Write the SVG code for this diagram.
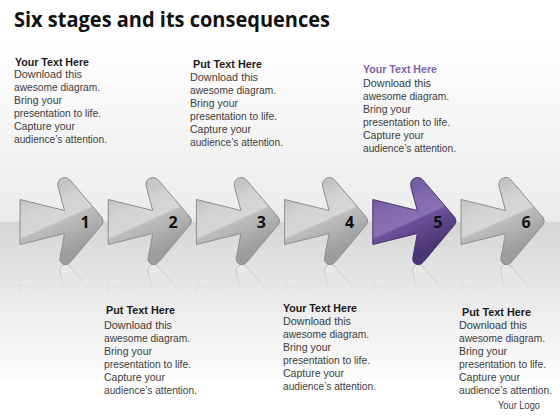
<svg xmlns="http://www.w3.org/2000/svg" xmlns:xlink="http://www.w3.org/1999/xlink" width="560" height="420" viewBox="0 0 560 420">
<style>
.ttl{font-family:"Open Sans","Liberation Sans",sans-serif;font-weight:bold;font-size:22px;fill:#111}
.hd{font-family:"Liberation Sans",Arial,sans-serif;font-weight:bold;font-size:11.5px;fill:#1a1a1a}
.hdp{fill:#7d62a8}
.bd{font-family:"Liberation Sans",Arial,sans-serif;font-size:10.5px;fill:#3c3c3c}
.num{font-family:"Open Sans","Liberation Sans",sans-serif;font-weight:bold;font-size:16px;fill:#111;text-anchor:middle}
.gray{fill:url(#gGray);stroke:#8e8e8e;stroke-width:1}
.purple{fill:url(#gPurple);stroke:#4a356e;stroke-width:1}
.refl{fill:#e9e9e9;stroke:#b8b8b8;stroke-width:1}
</style>
<defs>
<linearGradient id="bgTop" x1="0" y1="40" x2="0" y2="222" gradientUnits="userSpaceOnUse">
<stop offset="0" stop-color="#ffffff"/><stop offset="1" stop-color="#ebebeb"/>
</linearGradient>
<linearGradient id="bgBot" x1="0" y1="222" x2="0" y2="380" gradientUnits="userSpaceOnUse">
<stop offset="0" stop-color="#d5d5d5"/><stop offset="0.45" stop-color="#e9e9e9"/><stop offset="1" stop-color="#fdfdfd"/>
</linearGradient>
<linearGradient id="gGray" x1="0.3" y1="0.15" x2="0.6" y2="0.85">
<stop offset="0" stop-color="#c4c4c4"/><stop offset="0.25" stop-color="#d3d3d3"/><stop offset="0.5" stop-color="#d6d6d6"/><stop offset="0.53" stop-color="#bdbdbd"/><stop offset="1" stop-color="#9d9d9d"/>
</linearGradient>
<linearGradient id="gPurple" x1="0.3" y1="0.15" x2="0.6" y2="0.85">
<stop offset="0" stop-color="#735da3"/><stop offset="0.25" stop-color="#846bb0"/><stop offset="0.5" stop-color="#8870b4"/><stop offset="0.53" stop-color="#6b519a"/><stop offset="1" stop-color="#4b3472"/>
</linearGradient>
<linearGradient id="fadeG" x1="0" y1="264" x2="0" y2="296" gradientUnits="userSpaceOnUse">
<stop offset="0" stop-color="#fff" stop-opacity="0.8"/><stop offset="1" stop-color="#fff" stop-opacity="0"/>
</linearGradient>
<mask id="fade" maskUnits="userSpaceOnUse" x="-10" y="260" width="120" height="40">
<rect x="-10" y="260" width="120" height="40" fill="url(#fadeG)"/>
</mask>
<path id="arrowShape" d="M0,199.5 L44.5,210.5 L38,186.5 Q37,179 44,177.5 Q47.5,177 50,180 L82,217.5 Q84.5,221 82,224.5 L51,261.5 Q48,265.5 44,264.5 Q39.5,263 40,258 L44.5,233.5 L0,244.5 Z"/>
</defs>
<rect width="560" height="420" fill="#ffffff"/>
<rect x="0" y="40" width="560" height="182" fill="url(#bgTop)"/>
<rect x="0" y="222" width="560" height="160" fill="url(#bgBot)"/>
<text class="ttl" x="14" y="27" textLength="316" lengthAdjust="spacingAndGlyphs">Six stages and its consequences</text>
<g id="connectors"/>
<g id="stage1" transform="translate(20,0)">
<g mask="url(#fade)"><use xlink:href="#arrowShape" class="refl" transform="translate(0,529) scale(1,-1)"/></g>
<use xlink:href="#arrowShape" class="gray"/>
<text class="num" x="65" y="228">1</text>
</g>
<g id="stage2" transform="translate(108.2,0)">
<g mask="url(#fade)"><use xlink:href="#arrowShape" class="refl" transform="translate(0,529) scale(1,-1)"/></g>
<use xlink:href="#arrowShape" class="gray"/>
<text class="num" x="65" y="228">2</text>
</g>
<g id="stage3" transform="translate(196.4,0)">
<g mask="url(#fade)"><use xlink:href="#arrowShape" class="refl" transform="translate(0,529) scale(1,-1)"/></g>
<use xlink:href="#arrowShape" class="gray"/>
<text class="num" x="65" y="228">3</text>
</g>
<g id="stage4" transform="translate(284.6,0)">
<g mask="url(#fade)"><use xlink:href="#arrowShape" class="refl" transform="translate(0,529) scale(1,-1)"/></g>
<use xlink:href="#arrowShape" class="gray"/>
<text class="num" x="65" y="228">4</text>
</g>
<g id="stage5" transform="translate(372.8,0)">
<g mask="url(#fade)"><use xlink:href="#arrowShape" class="refl" transform="translate(0,529) scale(1,-1)"/></g>
<use xlink:href="#arrowShape" class="purple"/>
<text class="num" x="65" y="228">5</text>
</g>
<g id="stage6" transform="translate(461,0)">
<g mask="url(#fade)"><use xlink:href="#arrowShape" class="refl" transform="translate(0,529) scale(1,-1)"/></g>
<use xlink:href="#arrowShape" class="gray"/>
<text class="num" x="65" y="228">6</text>
</g>
<g id="text1">
<text class="hd" x="15" y="66" textLength="74" lengthAdjust="spacingAndGlyphs">Your Text Here</text>
<text class="bd" x="14" y="78" textLength="68" lengthAdjust="spacingAndGlyphs">Download this</text>
<text class="bd" x="14" y="91" textLength="86" lengthAdjust="spacingAndGlyphs">awesome diagram.</text>
<text class="bd" x="14" y="104" textLength="48" lengthAdjust="spacingAndGlyphs">Bring your</text>
<text class="bd" x="14" y="117" textLength="87" lengthAdjust="spacingAndGlyphs">presentation to life.</text>
<text class="bd" x="14" y="130" textLength="61" lengthAdjust="spacingAndGlyphs">Capture your</text>
<text class="bd" x="14" y="143" textLength="93" lengthAdjust="spacingAndGlyphs">audience’s attention.</text>
</g>
<g id="text2">
<text class="hd" x="193" y="68" textLength="69" lengthAdjust="spacingAndGlyphs">Put Text Here</text>
<text class="bd" x="190" y="81" textLength="68" lengthAdjust="spacingAndGlyphs">Download this</text>
<text class="bd" x="190" y="94" textLength="86" lengthAdjust="spacingAndGlyphs">awesome diagram.</text>
<text class="bd" x="190" y="107" textLength="48" lengthAdjust="spacingAndGlyphs">Bring your</text>
<text class="bd" x="190" y="120" textLength="87" lengthAdjust="spacingAndGlyphs">presentation to life.</text>
<text class="bd" x="190" y="133" textLength="61" lengthAdjust="spacingAndGlyphs">Capture your</text>
<text class="bd" x="190" y="146" textLength="93" lengthAdjust="spacingAndGlyphs">audience’s attention.</text>
</g>
<g id="text3">
<text class="hd hdp" x="363" y="73" textLength="74" lengthAdjust="spacingAndGlyphs">Your Text Here</text>
<text class="bd" x="363" y="87" textLength="68" lengthAdjust="spacingAndGlyphs">Download this</text>
<text class="bd" x="363" y="100" textLength="86" lengthAdjust="spacingAndGlyphs">awesome diagram.</text>
<text class="bd" x="363" y="113" textLength="48" lengthAdjust="spacingAndGlyphs">Bring your</text>
<text class="bd" x="363" y="126" textLength="87" lengthAdjust="spacingAndGlyphs">presentation to life.</text>
<text class="bd" x="363" y="139" textLength="61" lengthAdjust="spacingAndGlyphs">Capture your</text>
<text class="bd" x="363" y="152" textLength="93" lengthAdjust="spacingAndGlyphs">audience’s attention.</text>
</g>
<g id="text4">
<text class="hd" x="106" y="314" textLength="69" lengthAdjust="spacingAndGlyphs">Put Text Here</text>
<text class="bd" x="104" y="329" textLength="68" lengthAdjust="spacingAndGlyphs">Download this</text>
<text class="bd" x="104" y="342" textLength="86" lengthAdjust="spacingAndGlyphs">awesome diagram.</text>
<text class="bd" x="104" y="355" textLength="48" lengthAdjust="spacingAndGlyphs">Bring your</text>
<text class="bd" x="104" y="368" textLength="87" lengthAdjust="spacingAndGlyphs">presentation to life.</text>
<text class="bd" x="104" y="381" textLength="61" lengthAdjust="spacingAndGlyphs">Capture your</text>
<text class="bd" x="104" y="394" textLength="93" lengthAdjust="spacingAndGlyphs">audience’s attention.</text>
</g>
<g id="text5">
<text class="hd" x="283" y="312" textLength="74" lengthAdjust="spacingAndGlyphs">Your Text Here</text>
<text class="bd" x="283" y="325" textLength="68" lengthAdjust="spacingAndGlyphs">Download this</text>
<text class="bd" x="283" y="338" textLength="86" lengthAdjust="spacingAndGlyphs">awesome diagram.</text>
<text class="bd" x="283" y="351" textLength="48" lengthAdjust="spacingAndGlyphs">Bring your</text>
<text class="bd" x="283" y="364" textLength="87" lengthAdjust="spacingAndGlyphs">presentation to life.</text>
<text class="bd" x="283" y="377" textLength="61" lengthAdjust="spacingAndGlyphs">Capture your</text>
<text class="bd" x="283" y="390" textLength="93" lengthAdjust="spacingAndGlyphs">audience’s attention.</text>
</g>
<g id="text6">
<text class="hd" x="462" y="316" textLength="69" lengthAdjust="spacingAndGlyphs">Put Text Here</text>
<text class="bd" x="459" y="329" textLength="68" lengthAdjust="spacingAndGlyphs">Download this</text>
<text class="bd" x="459" y="342" textLength="86" lengthAdjust="spacingAndGlyphs">awesome diagram.</text>
<text class="bd" x="459" y="355" textLength="48" lengthAdjust="spacingAndGlyphs">Bring your</text>
<text class="bd" x="459" y="368" textLength="87" lengthAdjust="spacingAndGlyphs">presentation to life.</text>
<text class="bd" x="459" y="381" textLength="61" lengthAdjust="spacingAndGlyphs">Capture your</text>
<text class="bd" x="459" y="394" textLength="93" lengthAdjust="spacingAndGlyphs">audience’s attention.</text>
</g>
<g id="logo">
<text class="bd" x="498" y="409" textLength="42" lengthAdjust="spacingAndGlyphs">Your Logo</text>
</g>
</svg>
